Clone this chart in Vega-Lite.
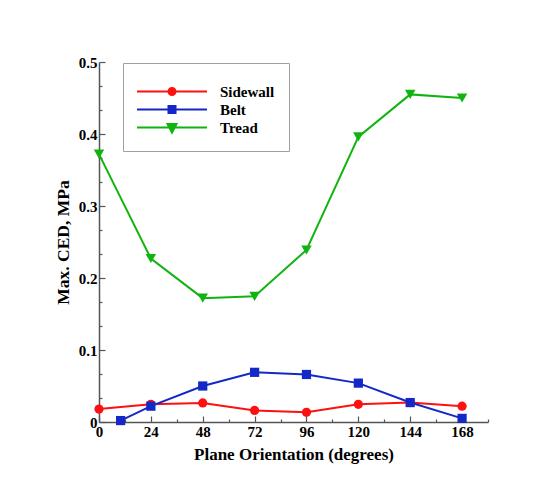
{
  "$schema": "https://vega.github.io/schema/vega-lite/v6.json",
  "width": 389,
  "height": 360,
  "autosize": {"type": "none"},
  "padding": {"left": 99, "top": 62, "right": 45, "bottom": 68},
  "background": "white",
  "config": {"view": {"stroke": null}, "font": "Liberation Serif"},
  "data": {
    "values": [
      {"angle": 0, "series": "Sidewall", "value": 0.018},
      {"angle": 24, "series": "Sidewall", "value": 0.0245},
      {"angle": 48, "series": "Sidewall", "value": 0.0265},
      {"angle": 72, "series": "Sidewall", "value": 0.016},
      {"angle": 96, "series": "Sidewall", "value": 0.0135},
      {"angle": 120, "series": "Sidewall", "value": 0.0245},
      {"angle": 144, "series": "Sidewall", "value": 0.027},
      {"angle": 168, "series": "Sidewall", "value": 0.022},
      {"angle": 10, "series": "Belt", "value": 0.002},
      {"angle": 24, "series": "Belt", "value": 0.022},
      {"angle": 48, "series": "Belt", "value": 0.05},
      {"angle": 72, "series": "Belt", "value": 0.069},
      {"angle": 96, "series": "Belt", "value": 0.066},
      {"angle": 120, "series": "Belt", "value": 0.054},
      {"angle": 144, "series": "Belt", "value": 0.027},
      {"angle": 168, "series": "Belt", "value": 0.005},
      {"angle": 0, "series": "Tread", "value": 0.372},
      {"angle": 24, "series": "Tread", "value": 0.227},
      {"angle": 48, "series": "Tread", "value": 0.172},
      {"angle": 72, "series": "Tread", "value": 0.1745},
      {"angle": 96, "series": "Tread", "value": 0.239},
      {"angle": 120, "series": "Tread", "value": 0.396},
      {"angle": 144, "series": "Tread", "value": 0.455},
      {"angle": 168, "series": "Tread", "value": 0.45}
    ]
  },
  "encoding": {
    "x": {
      "field": "angle",
      "type": "quantitative",
      "scale": {"domain": [0, 180], "nice": false, "zero": false},
      "axis": {
        "title": "Plane Orientation (degrees)",
        "titleFontSize": 17,
        "titleFontWeight": "bold",
        "titleColor": "black",
        "titlePadding": 4,
        "values": [0, 12, 24, 36, 48, 60, 72, 84, 96, 108, 120, 132, 144, 156, 168, 180],
        "labelExpr": "(datum.value % 24 === 0 && datum.value <= 168) ? datum.label : ''",
        "labelFontSize": 15,
        "labelFontWeight": "bold",
        "labelColor": "black",
        "labelPadding": 8,
        "labelFlush": false,
        "labelOverlap": false,
        "grid": false,
        "domainColor": "#555",
        "domainWidth": 1.5,
        "tickColor": "#555",
        "tickWidth": 1.2,
        "tickSize": {"condition": {"test": "datum.value % 24 === 0", "value": -6}, "value": -3}
      }
    },
    "y": {
      "field": "value",
      "type": "quantitative",
      "scale": {"domain": [0, 0.5], "nice": false},
      "axis": {
        "title": "Max. CED, MPa",
        "titleFontSize": 17.5,
        "titleFontWeight": "bold",
        "titleColor": "black",
        "titlePadding": 6,
        "values": [0, 0.03333, 0.06667, 0.1, 0.13333, 0.16667, 0.2, 0.23333, 0.26667, 0.3, 0.33333, 0.36667, 0.4, 0.43333, 0.46667, 0.5],
        "labelExpr": "abs(datum.value * 10 - round(datum.value * 10)) < 0.001 ? (datum.value == 0 ? '0' : format(datum.value, '.1f')) : ''",
        "labelFontSize": 15,
        "labelFontWeight": "bold",
        "labelColor": "black",
        "labelPadding": 8,
        "labelFlush": false,
        "labelOverlap": false,
        "grid": false,
        "domainColor": "#555",
        "domainWidth": 1.5,
        "tickColor": "#555",
        "tickWidth": 1.2,
        "tickSize": {"condition": {"test": "abs(datum.value * 10 - round(datum.value * 10)) < 0.001", "value": -6}, "value": -3}
      }
    },
    "color": {
      "field": "series",
      "type": "nominal",
      "scale": {"domain": ["Sidewall", "Belt", "Tread"], "range": ["#ff1010", "#1428c8", "#10b410"]},
      "legend": {
        "orient": "none",
        "legendX": 24,
        "legendY": 1,
        "title": " ",
        "titleFontSize": 1,
        "titlePadding": 6,
        "padding": 14,
        "strokeColor": "#a0a0a0",
        "fillColor": "white",
        "labelFont": "Liberation Serif",
        "labelFontWeight": "bold",
        "labelFontSize": 15,
        "labelColor": "black",
        "labelOffset": 68,
        "rowPadding": 2,
        "symbolSize": 100,
        "symbolStrokeWidth": 2,
        "encode": {
          "symbols": {
            "update": {
              "shape": {"signal": "datum.value === 'Sidewall' ? 'M-7,0H7M-0.7,0A0.7,0.7 0 1,0 0.7,0A0.7,0.7 0 1,0 -0.7,0Z' : datum.value === 'Belt' ? 'M-7,0H7M-0.7,-0.7H0.7V0.7H-0.7Z' : 'M-7,0H7M-0.9,-0.7H0.9L0,1Z'"},
              "fill": {"scale": "color", "field": "value"},
              "stroke": {"scale": "color", "field": "value"},
              "size": {"value": 100},
              "x": {"value": 35},
              "opacity": {"value": 1}
            }
          }
        }
      }
    }
  },
  "layer": [
    {"mark": {"type": "line", "strokeWidth": 2}},
    {
      "transform": [{"filter": "datum.series === 'Sidewall'"}],
      "mark": {"type": "point", "shape": "circle", "filled": true, "opacity": 1, "size": 85}
    },
    {
      "transform": [{"filter": "datum.series === 'Belt'"}],
      "mark": {"type": "point", "shape": "square", "filled": true, "opacity": 1, "size": 85}
    },
    {
      "transform": [{"filter": "datum.series === 'Tread'"}],
      "mark": {"type": "point", "shape": "triangle-down", "filled": true, "opacity": 1, "size": 110}
    }
  ]
}
